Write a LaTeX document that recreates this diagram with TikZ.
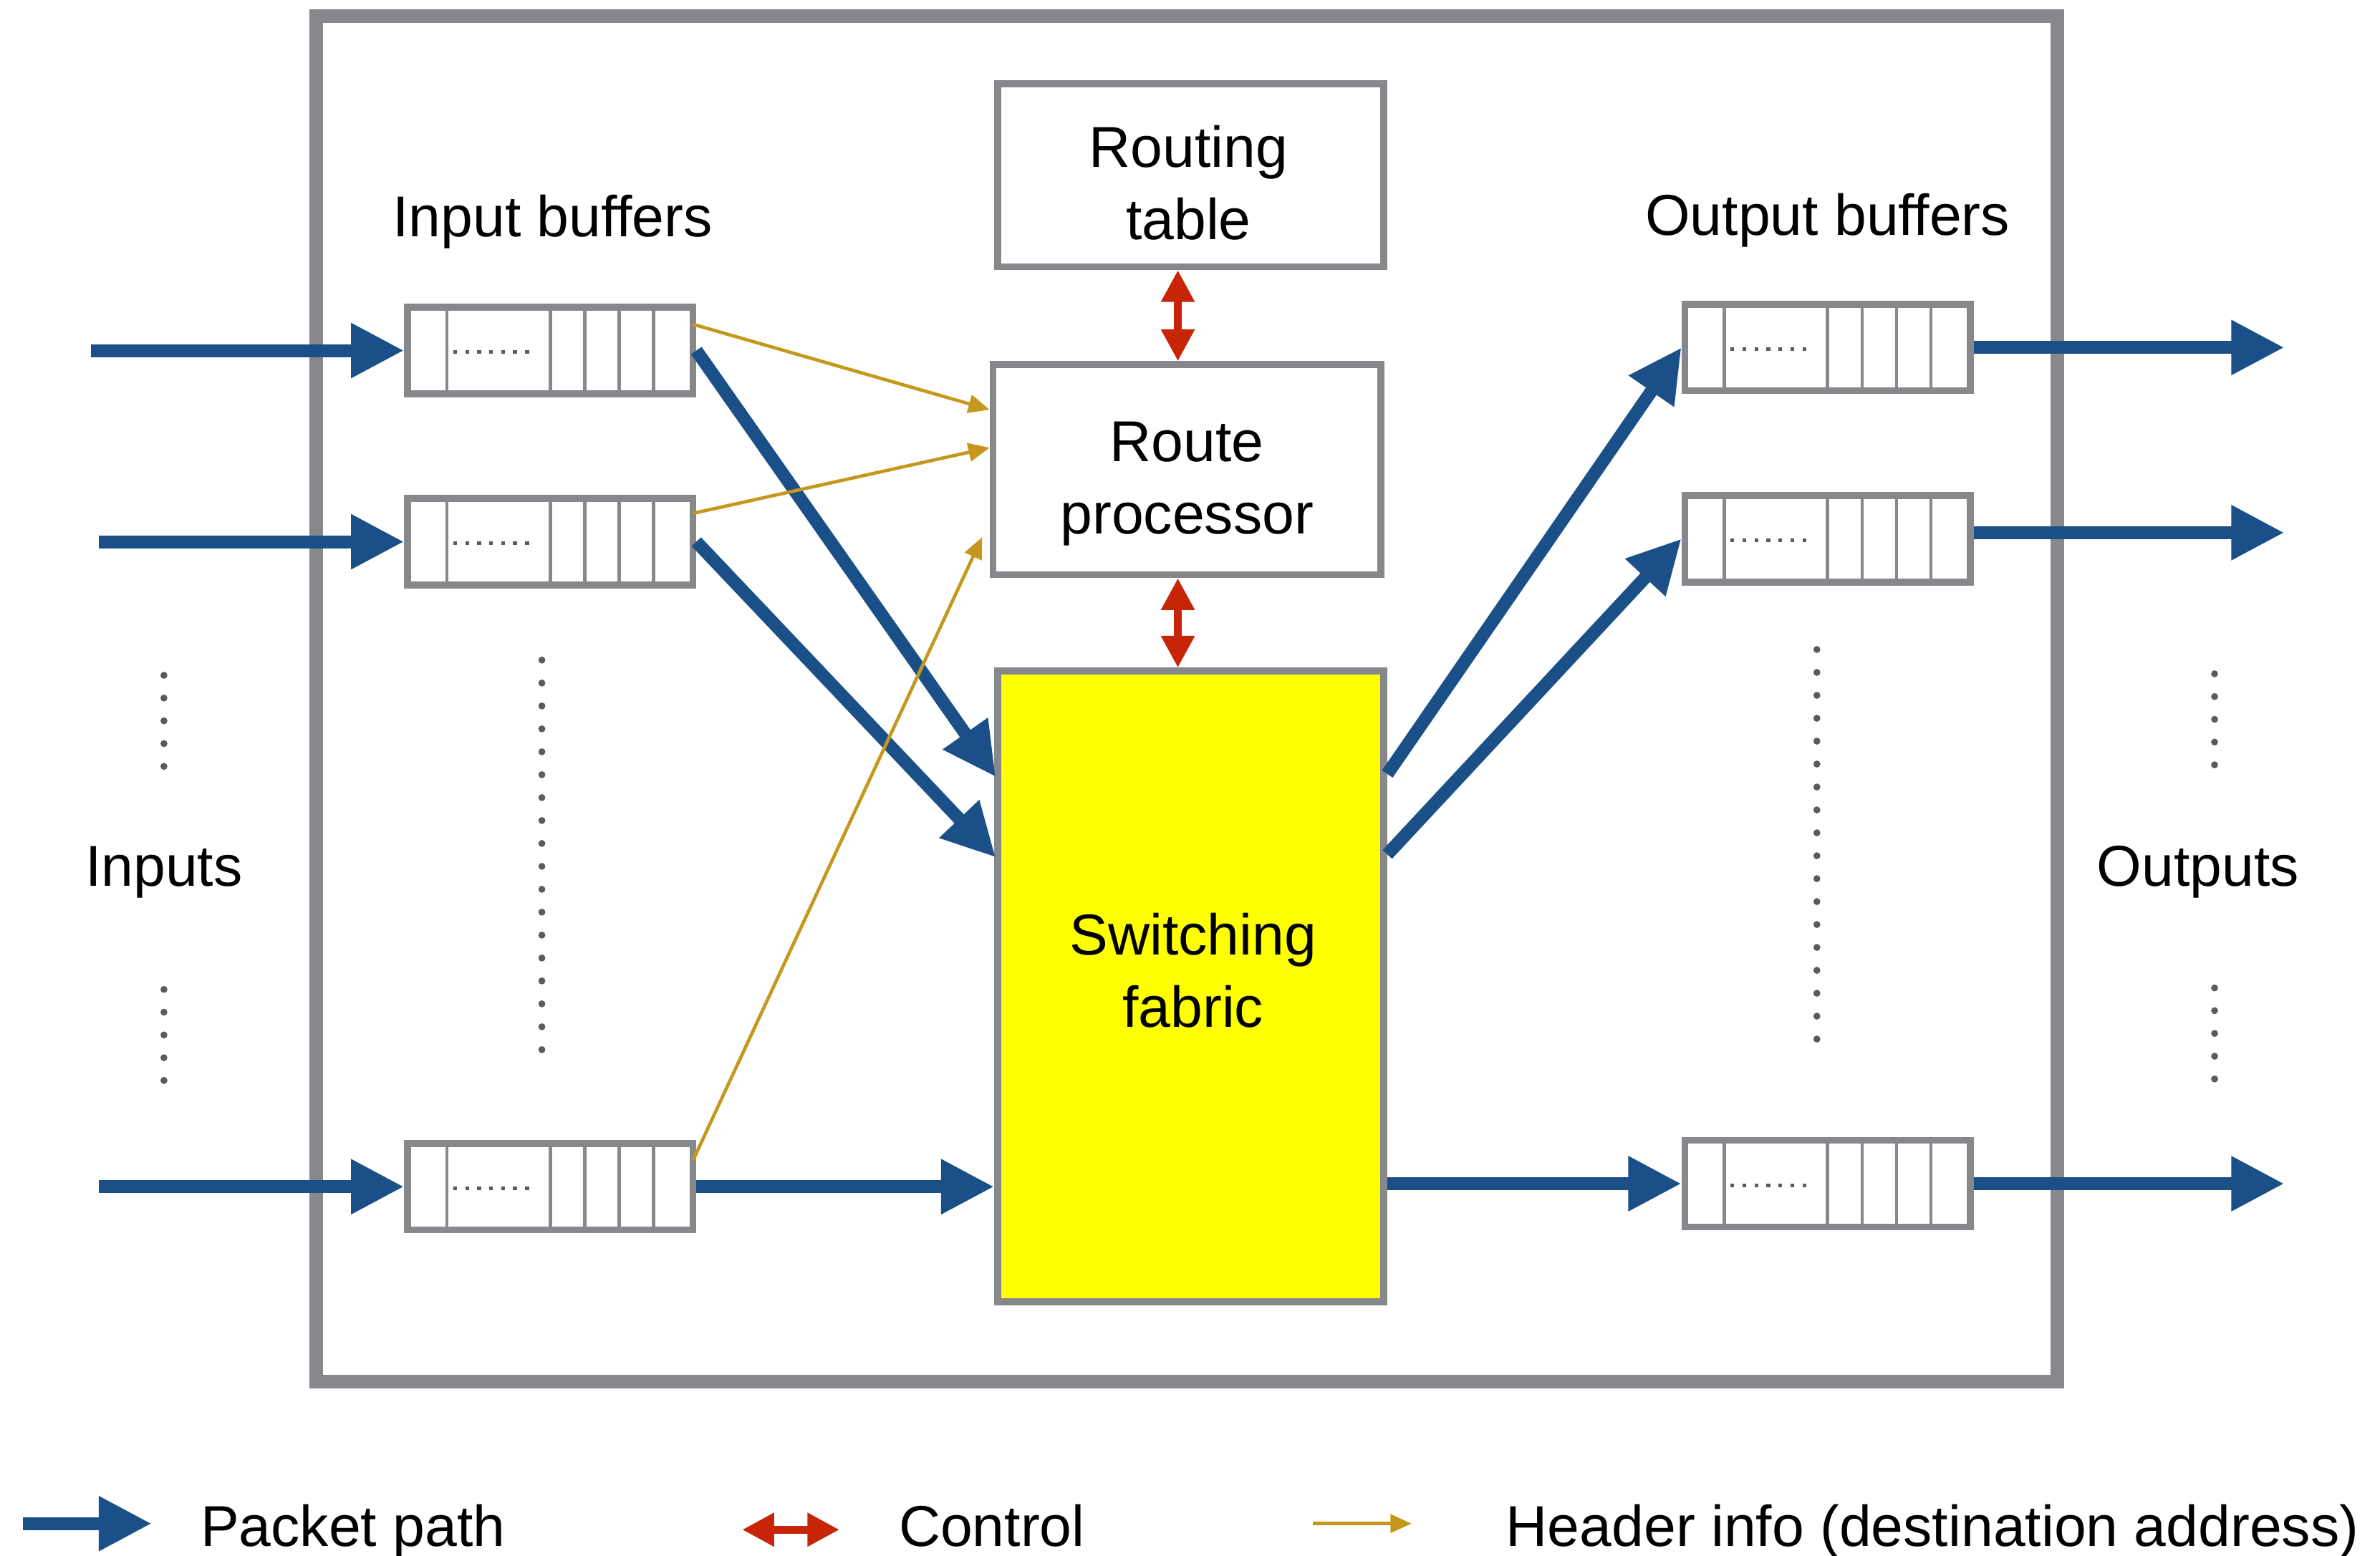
\documentclass[tikz,border=0pt]{standalone}
\usepackage{fontspec}
\setmainfont{Liberation Sans}
\usetikzlibrary{arrows.meta,calc}
\definecolor{gframe}{RGB}{134,136,140}
\definecolor{pblue}{RGB}{26,80,135}
\definecolor{cred}{RGB}{200,36,8}
\definecolor{hgold}{RGB}{197,152,29}
\definecolor{dotc}{RGB}{88,91,97}
\definecolor{fabyel}{RGB}{255,255,0}
\tikzset{
  lbl/.style={inner sep=0pt, anchor=base},
  lblw/.style={inner sep=0pt, anchor=base west},
  boxst/.style={draw=gframe, line width=4.5pt, fill=white, inner sep=0pt},
  bufbox/.style={draw=gframe, line width=4.5pt, fill=white, inner sep=0pt,
    minimum width=188, minimum height=57,
    path picture={
      \foreach \f in {0.138,0.5,0.621,0.742,0.862}
        \draw[gframe, line width=2.2pt]
          ($(path picture bounding box.south west)!\f!(path picture bounding box.south east)$) --
          ($(path picture bounding box.north west)!\f!(path picture bounding box.north east)$);
      \draw[dotc, line width=2.5pt, dash pattern=on 2.5pt off 5.4pt]
          ($(path picture bounding box.west)!0.16!(path picture bounding box.east)+(0,1)$) --
          ($(path picture bounding box.west)!0.45!(path picture bounding box.east)+(0,1)$);
    }},
  pkt/.style={draw=pblue, line width=8.5pt, -{Triangle[length=35pt,width=34pt]}},
  hdr/.style={draw=hgold, line width=2.2pt, -{Triangle[length=14pt,width=12pt]}},
  ctl/.style={draw=cred, line width=5pt, {Triangle[length=21pt,width=21pt]}-{Triangle[length=21pt,width=21pt]}},
  vdot/.style={fill=dotc}
}
\begin{document}
\begin{tikzpicture}[x=1pt,y=-1pt,font=\fontsize{38}{48}\selectfont]
\useasboundingbox (0,0) rectangle (1568,1025);

% router frame
\node[draw=gframe, line width=9pt, inner sep=0pt, minimum width=1147, minimum height=900] (router) at (782,460.5) {};

% labels
\node[lbl] (tib) at (364,156) {Input buffers};
\node[lbl] (tob) at (1204,155) {Output buffers};
\node[lbl] (tin) at (108,584) {Inputs};
\node[lbl] (tout) at (1448,584) {Outputs};

% central boxes
\node[boxst, minimum width=254.5, minimum height=120.5] (rtab) at (784.5,115.5) {};
\node[lbl] (rtab1) at (783,110) {Routing};
\node[lbl] (rtab2) at (783,158) {table};
\node[boxst, minimum width=255.5, minimum height=138.5] (rproc) at (782,309.5) {};
\node[lbl] (rproc1) at (782,304) {Route};
\node[lbl] (rproc2) at (782,352) {processor};
\node[boxst, fill=fabyel, minimum width=254.5, minimum height=415.5] (fab) at (784.5,650) {};
\node[lbl] (fab1) at (786,629) {Switching};
\node[lbl] (fab2) at (786,677) {fabric};

% buffers
\node[bufbox] (buf1) at (362.5,231) {};
\node[bufbox] (buf2) at (362.5,357) {};
\node[bufbox] (buf3) at (362.5,782) {};
\node[bufbox] (ob1) at (1204,229) {};
\node[bufbox] (ob2) at (1204,355) {};
\node[bufbox] (ob3) at (1204,780) {};

% dots
\foreach \k in {0,...,4} {
  \fill[vdot] (108,445+15*\k) circle (2.3);
  \fill[vdot] (108,652+15*\k) circle (2.3);
  \fill[vdot] (1459,444+15*\k) circle (2.3);
  \fill[vdot] (1459,651+15*\k) circle (2.3);
}
\foreach \k in {0,...,17} {
  \fill[vdot] (357,435+15.1*\k) circle (2.3);
  \fill[vdot] (1197,428+15.1*\k) circle (2.3);
}

% coordinates
\coordinate (in1) at (60,231);
\coordinate (in2) at (65,357);
\coordinate (in3) at (65,782);
\coordinate (out1) at (1505,229);
\coordinate (out2) at (1505,351);
\coordinate (out3) at (1505,780);
\coordinate (fi1) at (656,512);
\coordinate (fi2) at (656,565);
\coordinate (fo1) at (914,510);
\coordinate (fo2) at (914,563);
\coordinate (ctlx) at (776,0);

% packet path
\draw[pkt] (in1) -- (buf1.west);
\draw[pkt] (in2) -- (buf2.west);
\draw[pkt] (in3) -- (buf3.west);
\draw[pkt] (buf1.east) -- (fi1);
\draw[pkt] (buf2.east) -- (fi2);
\draw[pkt] (buf3.east) -- (fab.west |- buf3.east);
\draw[pkt] (fo1) -- (ob1.west);
\draw[pkt] (fo2) -- (ob2.west);
\draw[pkt] (fab.east |- ob3.west) -- (ob3.west);
\draw[pkt] (ob1.east) -- (out1);
\draw[pkt] (ob2.east |- out2) -- (out2);
\draw[pkt] (ob3.east) -- (out3);

% header info
\draw[hdr] ($(buf1.north east)+(-2,13.5)$) -- ($(rproc.north west)+(0,32)$);
\draw[hdr] ($(buf2.north east)+(-2,12)$) -- ($(rproc.north west)+(0,57)$);
\draw[hdr] ($(buf3.north east)+(-2,13)$) -- ($(rproc.south west)+(-5,-27)$);

% control
\draw[ctl] (rtab.south -| ctlx) -- (rproc.north -| ctlx);
\draw[ctl] (rproc.south -| ctlx) -- (fab.north -| ctlx);

% legend
\coordinate (lgb1) at (15,1004);
\coordinate (lgb2) at (100,1004);
\coordinate (lgr1) at (489,1008);
\coordinate (lgr2) at (553,1008);
\coordinate (lgh1) at (865,1004);
\coordinate (lgh2) at (930,1004);
\draw[pkt] (lgb1) -- (lgb2);
\draw[ctl] (lgr1) -- (lgr2);
\draw[hdr] (lgh1) -- (lgh2);
\node[lblw] (lgt1) at (132,1019) {Packet path};
\node[lblw] (lgt2) at (592,1019) {Control};
\node[lblw] (lgt3) at (992,1019) {Header info (destination address)};
\end{tikzpicture}
\end{document}
